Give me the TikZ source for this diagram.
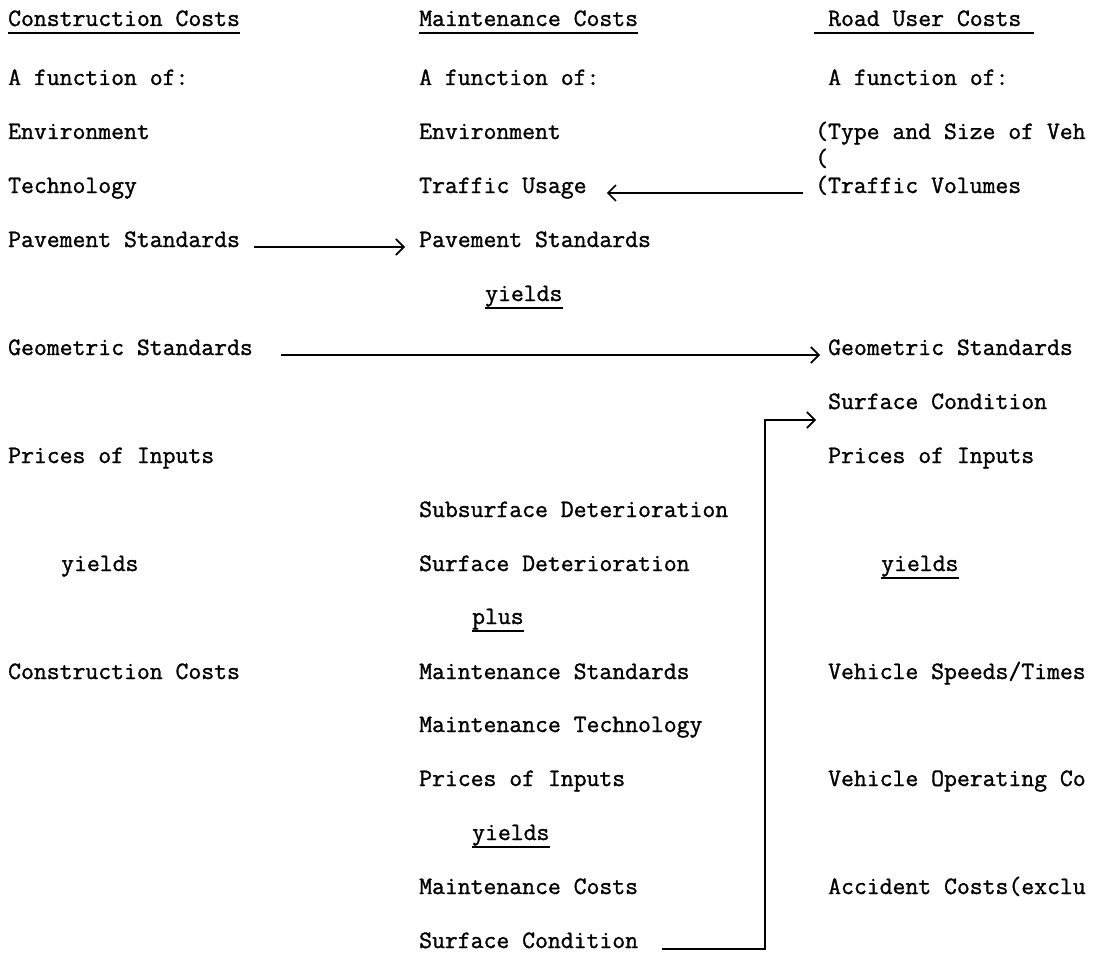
\documentclass[tikz,border=0pt]{standalone}
\usepackage{fontspec}
\newfontfamily\twfont{Latin Modern Mono}[FakeBold=1.2]
\usetikzlibrary{arrows.meta}
\begin{document}
\begin{tikzpicture}[x=1pt,y=-1pt,
  txt/.style={anchor=base west,inner sep=0pt,font=\twfont\fontsize{25}{27}\selectfont},
  conn/.style={line width=1.7pt,-{Straight Barb[length=8pt,width=16pt,line width=1.7pt]}},
  uline/.style={line width=2pt}]
\useasboundingbox (0,0) rectangle (1107,979);
% column x
\def\cl{8}\def\cm{419}\def\cr{828}
% headers
\node[txt] (h1) at (\cl,26) {Construction Costs};
\node[txt] (h2) at (\cm,26) {Maintenance Costs};
\node[txt] (h3) at (\cr,26) {Road User Costs};
\draw[uline] ([yshift=-7pt]h1.base west) -- ([yshift=-7pt]h1.base east);
\draw[uline] ([yshift=-7pt]h2.base west) -- ([yshift=-7pt]h2.base east);
\draw[uline] ([yshift=-7pt,xshift=-14pt]h3.base west) -- ([yshift=-7pt,xshift=12pt]h3.base east);
% row 1
\node[txt] (l1) at (\cl,85) {A function of:};
\node[txt] (m1) at (\cm,85) {A function of:};
\node[txt] (r1) at (\cr,85) {A function of:};
% row 2
\node[txt] (l2) at (\cl,139) {Environment};
\node[txt] (m2) at (\cm,139) {Environment};
\node[txt] (r2) at (\cr-13,139) {(Type and Size of Veh};
\node[txt] (r2b) at (\cr-13,166) {(};
% row 3
\node[txt] (l3) at (\cl,193) {Technology};
\node[txt] (m3) at (\cm,193) {Traffic Usage};
\node[txt] (r3) at (\cr-13,193) {(Traffic Volumes};
% row 4
\node[txt] (l4) at (\cl,247) {Pavement Standards};
\node[txt] (m4) at (\cm,247) {Pavement Standards};
% row 5
\node[txt] (m5) at (\cm+66,301) {yields};
\draw[uline] ([yshift=-7pt]m5.base west) -- ([yshift=-7pt]m5.base east);
% row 6
\node[txt] (l6) at (\cl,355) {Geometric Standards};
\node[txt] (r6) at (\cr,355) {Geometric Standards};
% row 7
\node[txt] (r7) at (\cr,409) {Surface Condition};
% row 8
\node[txt] (l8) at (\cl,463) {Prices of Inputs};
\node[txt] (r8) at (\cr,463) {Prices of Inputs};
% row 9
\node[txt] (m9) at (\cm,517) {Subsurface Deterioration};
% row 10
\node[txt] (l10) at (\cl+53,571) {yields};
\node[txt] (m10) at (\cm,571) {Surface Deterioration};
\node[txt] (r10) at (\cr+53,571) {yields};
\draw[uline] ([yshift=-7pt]r10.base west) -- ([yshift=-7pt]r10.base east);
% row 11
\node[txt] (m11) at (\cm+53,624) {plus};
\draw[uline] ([yshift=-7pt]m11.base west) -- ([yshift=-7pt]m11.base east);
% row 12
\node[txt] (l12) at (\cl,679) {Construction Costs};
\node[txt] (m12) at (\cm,679) {Maintenance Standards};
\node[txt] (r12) at (\cr,679) {Vehicle Speeds/Times};
% row 13
\node[txt] (m13) at (\cm,732) {Maintenance Technology};
% row 14
\node[txt] (m14) at (\cm,786) {Prices of Inputs};
\node[txt] (r14) at (\cr,786) {Vehicle Operating Co};
% row 15
\node[txt] (m15) at (\cm+53,840) {yields};
\draw[uline] ([yshift=-7pt]m15.base west) -- ([yshift=-7pt]m15.base east);
% row 16
\node[txt] (m16) at (\cm,894) {Maintenance Costs};
\node[txt] (r16) at (\cr,894) {Accident Costs(exclu};
% row 17
\node[txt] (m17) at (\cm,948) {Surface Condition};
% connectors
\draw[conn] ([xshift=-12pt]r3.base west) -- ([xshift=20pt]m3.base east);
\draw[conn] ([xshift=14pt]l4.base east) -- ([xshift=-14pt]m4.base west);
\draw[conn] ([xshift=28pt]l6.base east) -- ([xshift=-8pt]r6.base west);
\coordinate (b1) at (765,949);
\coordinate (b2) at (765,420);
\draw[conn] ([xshift=24pt,yshift=-1pt]m17.base east) -- (b1) -- (b2) -- ([xshift=-12pt,yshift=-11pt]r7.base west);
\end{tikzpicture}
\end{document}
